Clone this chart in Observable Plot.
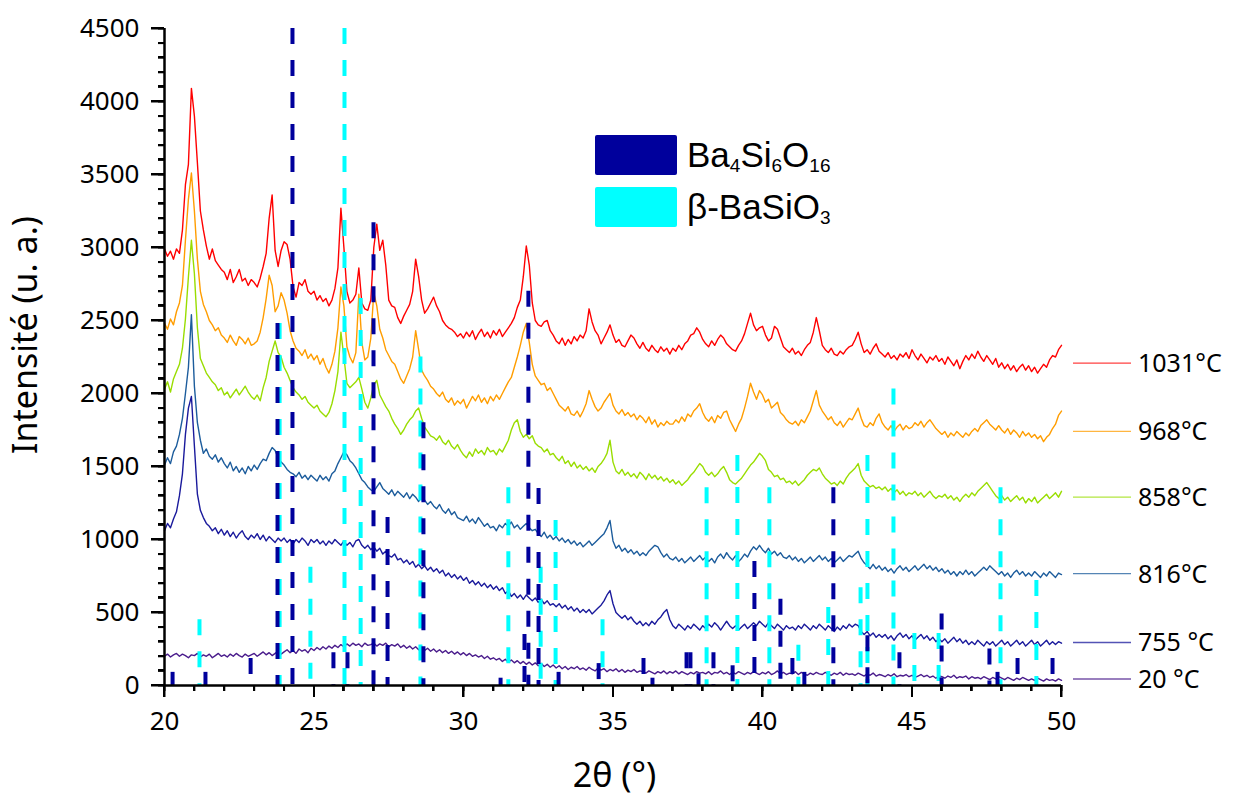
<!DOCTYPE html>
<html><head><meta charset="utf-8">
<script src="https://cdn.jsdelivr.net/npm/d3@7"></script>
<script src="https://cdn.jsdelivr.net/npm/@observablehq/plot@0.6"></script>
<style>
html,body{margin:0;padding:0;background:#fff;}
#wrap{position:relative;width:1233px;height:796px;font-family:"Liberation Sans",Arial,sans-serif;}
.phase{position:absolute;left:595px;display:flex;align-items:center;height:40px;}
.sw{width:82px;height:40px;border-radius:2px;}
.lab{margin-left:10px;font-size:35px;color:#000;white-space:nowrap;line-height:40px;}
.lab sub{font-size:19px;vertical-align:-5px;line-height:0;}
.tk{position:absolute;background:#000;}
</style></head><body><div id="wrap"></div>
<script>
// 2θ sampling (degrees), 0.1° step from 20 to 50
const thetaStart = 20, thetaStep = 0.1;

// Intensities (u. a.), one row per degree
const int1031 = [
2990,2940,2975,2920,2990,2960,3120,3430,3570,4090,
3900,3580,3250,3120,3010,2920,2990,2910,2880,2850,
2830,2780,2850,2760,2800,2850,2770,2790,2740,2780,
2760,2730,2790,2870,2960,3200,3360,2980,2870,2980,
3040,3020,2920,2730,2660,2760,2740,2780,2700,2680,
2700,2640,2670,2630,2650,2600,2640,2720,2860,3270,
3000,2700,2620,2640,2680,2860,2620,2580,2570,2640,
3000,3160,2980,3050,2880,2640,2600,2590,2520,2480,
2530,2570,2610,2700,2920,2800,2640,2550,2580,2620,
2660,2600,2560,2500,2470,2450,2440,2420,2390,2410,
2380,2420,2390,2430,2370,2410,2440,2390,2420,2380,
2430,2400,2440,2390,2420,2450,2480,2520,2590,2640,
2800,3010,2880,2620,2500,2470,2460,2490,2500,2430,
2400,2360,2340,2380,2330,2370,2340,2390,2360,2400,
2380,2430,2580,2490,2430,2400,2340,2380,2420,2470,
2400,2350,2370,2330,2320,2360,2400,2380,2340,2310,
2350,2310,2290,2330,2300,2280,2320,2290,2310,2270,
2310,2290,2330,2300,2340,2360,2400,2410,2450,2420,
2370,2340,2320,2360,2330,2370,2400,2380,2340,2320,
2300,2290,2330,2360,2410,2480,2550,2470,2430,2450,
2460,2400,2360,2380,2460,2440,2380,2320,2300,2280,
2310,2270,2290,2260,2300,2330,2350,2420,2520,2430,
2330,2300,2280,2310,2270,2260,2290,2270,2300,2320,
2330,2370,2420,2340,2280,2300,2270,2310,2340,2290,
2270,2250,2280,2240,2260,2230,2270,2250,2280,2240,
2300,2260,2230,2270,2240,2210,2250,2230,2260,2220,
2240,2200,2250,2220,2190,2230,2170,2220,2260,2230,
2270,2240,2290,2250,2220,2260,2230,2200,2240,2180,
2210,2170,2200,2160,2190,2150,2180,2200,2160,2190,
2150,2180,2140,2170,2200,2180,2230,2260,2250,2300,
2330];
const int968 = [
2480,2440,2510,2470,2560,2620,2740,3050,3330,3510,
3250,2920,2700,2610,2560,2500,2470,2430,2450,2400,
2380,2350,2400,2360,2330,2390,2370,2340,2380,2330,
2340,2360,2420,2520,2650,2810,2740,2560,2600,2690,
2640,2550,2430,2360,2310,2290,2260,2300,2240,2270,
2230,2260,2200,2240,2180,2140,2200,2290,2450,2730,
2600,2320,2250,2210,2280,2680,2350,2230,2250,2380,
2690,2600,2440,2380,2300,2260,2220,2200,2150,2100,
2070,2120,2170,2250,2430,2300,2160,2120,2090,2050,
2030,2000,1980,2010,1960,1940,1970,1920,1950,1930,
1960,1900,1940,1980,1950,1990,1940,1970,1930,1980,
1950,1990,1960,2000,2040,2080,2110,2180,2250,2330,
2420,2480,2350,2200,2120,2090,2060,2070,2020,2040,
2000,1960,1920,1900,1880,1910,1860,1850,1880,1840,
1880,1930,2020,1960,1910,1880,1900,1940,1970,2000,
1920,1880,1860,1890,1850,1870,1840,1860,1820,1850,
1830,1800,1840,1790,1820,1770,1800,1780,1810,1790,
1790,1820,1800,1840,1810,1860,1840,1880,1900,1930,
1870,1830,1810,1840,1800,1850,1830,1870,1880,1820,
1780,1740,1790,1830,1900,1980,2070,2010,1960,2020,
1990,1940,1960,1900,1920,1940,1870,1850,1820,1800,
1790,1810,1780,1820,1800,1840,1880,1950,2020,1920,
1880,1850,1820,1840,1800,1780,1810,1770,1800,1830,
1820,1860,1900,1830,1780,1770,1800,1780,1830,1860,
1800,1770,1750,1780,1740,1770,1790,1750,1780,1760,
1770,1800,1780,1810,1770,1800,1820,1790,1760,1740,
1720,1740,1700,1730,1710,1740,1720,1700,1730,1710,
1740,1760,1740,1780,1800,1820,1790,1770,1750,1780,
1750,1730,1760,1720,1750,1730,1700,1740,1710,1730,
1700,1720,1690,1710,1670,1700,1720,1760,1790,1850,
1880];
const int858 = [
2030,2080,2010,2100,2150,2200,2310,2510,2800,3050,
2820,2450,2240,2190,2140,2110,2080,2060,2020,2040,
1990,2010,1970,2000,2030,1990,2020,2050,2010,1980,
1960,1990,1950,2040,2110,2220,2290,2360,2280,2250,
2180,2140,2090,2040,2010,1990,1960,1980,1940,1920,
1900,1920,1880,1860,1840,1870,1930,2020,2150,2420,
2250,2070,2040,2060,2080,2110,2030,1940,1900,1970,
2060,2090,1990,1950,1910,1880,1830,1790,1760,1720,
1750,1790,1820,1840,1880,1900,1830,1770,1740,1710,
1700,1680,1710,1670,1650,1680,1640,1620,1650,1610,
1580,1560,1600,1570,1620,1590,1610,1580,1630,1600,
1610,1580,1620,1600,1640,1680,1750,1800,1820,1740,
1700,1720,1690,1710,1660,1640,1630,1600,1620,1580,
1590,1560,1540,1570,1520,1540,1500,1530,1490,1510,
1480,1500,1470,1490,1460,1500,1520,1550,1590,1680,
1530,1470,1450,1480,1440,1460,1430,1450,1420,1460,
1440,1410,1450,1420,1440,1410,1430,1400,1420,1390,
1410,1380,1400,1370,1390,1410,1440,1460,1490,1520,
1500,1460,1440,1460,1430,1450,1480,1500,1460,1410,
1390,1380,1400,1420,1450,1480,1510,1530,1560,1590,
1570,1540,1480,1460,1430,1440,1410,1420,1390,1400,
1380,1400,1370,1390,1410,1440,1460,1480,1470,1490,
1450,1420,1400,1380,1390,1370,1400,1380,1420,1450,
1470,1490,1520,1440,1400,1380,1360,1370,1350,1360,
1340,1360,1330,1350,1320,1340,1310,1330,1300,1320,
1310,1330,1300,1320,1290,1310,1330,1300,1280,1300,
1290,1310,1280,1300,1270,1290,1260,1290,1310,1290,
1320,1300,1330,1350,1370,1390,1360,1330,1300,1280,
1300,1270,1290,1260,1280,1300,1270,1290,1250,1280,
1260,1290,1250,1270,1290,1310,1280,1300,1320,1290,
1330];
const int816 = [
1510,1560,1520,1600,1640,1720,1830,2000,2180,2540,
2050,1800,1680,1590,1620,1570,1550,1580,1530,1560,
1520,1490,1530,1470,1500,1460,1490,1450,1500,1470,
1510,1480,1520,1550,1540,1590,1630,1610,1560,1530,
1510,1480,1460,1450,1430,1460,1420,1440,1410,1440,
1420,1400,1440,1410,1430,1400,1450,1470,1520,1560,
1600,1580,1540,1520,1490,1450,1410,1390,1360,1340,
1330,1360,1390,1350,1330,1310,1340,1300,1330,1310,
1290,1320,1280,1310,1290,1260,1300,1270,1240,1260,
1230,1210,1240,1200,1180,1210,1170,1190,1150,1140,
1130,1160,1120,1140,1110,1150,1120,1090,1110,1080,
1090,1060,1100,1080,1110,1090,1120,1080,1100,1070,
1090,1110,1080,1060,1070,1040,1020,1050,1010,1030,
1000,1020,990,1010,980,1000,970,990,960,980,
950,970,990,960,980,1000,1020,1040,1080,1130,
990,940,960,920,940,910,930,900,920,890,
910,890,920,940,960,950,910,880,900,870,
860,880,850,870,840,860,880,850,870,890,
860,880,850,870,840,880,900,870,910,880,
860,890,850,870,900,880,920,950,930,960,
930,910,940,900,920,890,910,880,870,890,
860,880,850,870,840,860,880,850,870,890,
860,880,850,870,840,860,880,850,870,890,
880,900,920,870,840,820,800,830,800,820,
790,810,780,800,770,800,820,790,810,780,
800,820,790,810,830,800,820,790,810,780,
800,770,790,760,780,750,780,760,790,760,
780,750,770,790,810,790,820,800,780,760,
780,750,770,740,770,790,760,780,750,770,
750,780,760,740,770,750,780,760,740,770,
760];
const int755 = [
1060,1110,1080,1140,1190,1300,1450,1720,1900,1980,
1640,1310,1200,1150,1110,1090,1060,1080,1040,1070,
1030,1060,1020,1050,1010,1040,1060,1020,1000,1030,
1010,1040,1000,1030,990,1020,1000,980,1010,990,
1010,980,1000,970,1000,980,1010,990,960,1000,
980,1000,970,990,960,990,970,1000,980,960,
990,960,980,950,990,1000,960,940,960,930,
950,920,940,900,920,890,880,900,860,870,
840,860,830,850,810,830,800,820,790,810,
780,800,770,790,750,770,740,760,730,750,
720,740,700,720,690,710,680,700,670,690,
660,680,650,670,630,650,610,630,600,620,
590,620,600,580,600,570,590,560,580,550,
560,540,560,530,550,520,540,510,530,500,
520,500,520,490,510,530,550,580,620,650,
560,500,480,460,480,450,470,440,420,440,
410,430,410,440,420,450,470,500,520,450,
410,390,420,400,380,410,390,420,400,380,
410,390,420,400,430,410,380,410,440,410,
390,410,380,400,420,390,410,430,410,440,
420,400,430,410,390,420,400,380,410,390,
400,380,410,390,420,400,380,410,390,420,
400,380,410,390,370,400,380,410,390,420,
400,420,410,370,350,370,340,360,330,350,
330,350,320,340,310,340,360,330,350,320,
340,310,330,350,320,340,310,330,300,320,
300,320,290,310,330,300,320,290,310,280,
300,280,310,290,270,300,280,300,270,290,
310,280,300,270,290,310,280,300,270,290,
310,280,300,270,290,310,280,300,280,300,
290];
const int20 = [
200,215,195,210,220,200,215,205,190,210,
205,220,195,210,200,215,190,205,220,200,
210,195,215,200,220,205,195,215,200,210,
220,200,215,230,210,225,205,220,235,215,
230,245,225,240,220,250,235,245,225,255,
240,260,245,265,250,270,255,275,260,280,
265,285,270,290,275,285,265,290,275,280,
290,270,285,275,290,265,280,270,285,260,
275,255,270,250,265,245,260,240,255,235,
250,230,245,225,240,220,235,215,230,210,
225,205,220,200,210,195,205,185,200,180,
190,175,185,165,180,160,175,155,170,150,
165,145,160,140,155,135,150,130,145,125,
140,120,135,115,130,110,125,115,130,110,
120,105,125,110,100,120,105,115,95,110,
100,115,95,110,90,105,95,110,90,100,
95,85,100,90,80,95,85,100,80,95,
85,100,80,95,85,75,90,80,95,85,
90,80,95,75,90,85,100,80,90,75,
90,80,95,85,75,90,80,95,85,75,
90,80,95,75,85,100,80,90,75,85,
80,95,75,90,80,70,85,75,90,80,
75,90,80,70,85,75,90,70,85,75,
80,70,85,75,65,80,70,85,65,75,
70,60,75,65,80,60,70,65,75,60,
70,55,65,75,60,70,55,65,50,65,
60,50,65,55,70,50,60,55,65,45,
60,50,55,45,60,50,40,55,45,60,
50,40,55,45,35,50,40,55,45,35,
45,35,50,40,30,45,35,40,30,45,
35];

const seriesLabels = ["1031°C", "968°C", "858°C", "816°C", "755 °C", "20 °C"];
const seriesColors = ["#ff0000", "#ff9d00", "#99dd00", "#1c5c9c", "#1a1a9c", "#4a1c8c"];
const seriesValues = [int1031, int968, int858, int816, int755, int20];

// Reference patterns: 2θ positions and heights
const ba4Si6O16Pos = [20.27,21.37,22.88,23.78,24.28,25.65,26.12,26.99,27.46,28.66,31.24,32.04,32.17,32.51,33.18,34.52,36.02,36.32,37.46,37.59,37.86,38.36,39.0,39.73,40.6,41.0,41.4,42.37,43.51,44.58,45.99,47.59,47.86,48.53,49.7];
const ba4Si6O16Int = [90,90,185,2480,4500,225,225,3170,1150,1800,50,350,2700,1350,90,150,185,50,225,225,80,225,135,850,590,185,90,1355,340,225,490,250,90,185,185];
const bBaSiO3Pos = [21.17,23.85,24.88,26.02,26.56,28.56,31.5,32.58,33.08,34.65,38.13,39.16,40.23,41.2,42.2,43.28,43.51,44.38,45.08,45.89,47.96,49.16];
const bBaSiO3Int = [450,2480,810,4500,2650,2250,1355,810,1130,450,1355,1575,1355,275,535,670,1575,2030,356,356,1355,720];
const phaseNames = ["Ba4Si6O16", "β-BaSiO3"];
const phaseColors = ["#00009c", "#00ffff"];

const xMajorTicks = [20, 25, 30, 35, 40, 45, 50];
const yMajorTicks = [0, 500, 1000, 1500, 2000, 2500, 3000, 3500, 4000, 4500];
const xMinorTicks = d3.range(20, 51, 1);
const yMinorTicks = d3.range(0, 4501, 100);

const twoTheta = d3.range(int1031.length).map(i => Math.round((thetaStart + i * thetaStep) * 10) / 10);

const lineMarks = seriesValues.slice().reverse().map((vals, k) => {
  const idx = seriesValues.length - 1 - k;
  return Plot.line(vals.map((v, i) => ({x: twoTheta[i], y: v})), {x: "x", y: "y", stroke: seriesColors[idx], strokeWidth: 1.4});
});

const refData = [
  ...bBaSiO3Pos.map((p, i) => ({x: p, h: bBaSiO3Int[i], c: phaseColors[1]})),
  ...ba4Si6O16Pos.map((p, i) => ({x: p, h: ba4Si6O16Int[i], c: phaseColors[0]}))
];

const chart = Plot.plot({
  width: 1233, height: 796,
  marginLeft: 164, marginRight: 172, marginTop: 28, marginBottom: 111,
  x: {domain: [20, 50]},
  y: {domain: [0, 4500]},
  marks: [
    Plot.axisY({ticks: yMinorTicks, tickSize: 6, strokeWidth: 2, tickFormat: () => "", label: null}),
    Plot.axisX({ticks: xMinorTicks, tickSize: 6, strokeWidth: 2, tickFormat: () => "", label: null}),
    Plot.axisY({ticks: yMajorTicks, tickSize: 13, tickPadding: 12, strokeWidth: 2, fontSize: 26, label: null, tickFormat: d => String(d)}),
    Plot.axisX({ticks: xMajorTicks, tickSize: 12, tickPadding: 14, strokeWidth: 2, fontSize: 26, label: null, tickFormat: d => String(d)}),
    ...lineMarks,
    Plot.ruleX(refData, {x: "x", y1: "h", y2: 0, stroke: d => d.c, strokeWidth: 4, strokeDasharray: "16,16"}),
    Plot.ruleX([20], {strokeWidth: 2.5}),
    Plot.ruleY([0], {strokeWidth: 2.5})
  ]
});

const wrap = document.getElementById("wrap");
wrap.appendChild(chart);

const sx = chart.scale("x"), sy = chart.scale("y");
const svg = d3.select(chart);
const x0 = sx.apply(20), y0 = sy.apply(0), xEnd = sx.apply(50);

// tick marks as an overlay, positioned through the plot's own scales
function addTick(left, top, w, h) {
  const t = document.createElement("div");
  t.className = "tk";
  t.style.left = left + "px"; t.style.top = top + "px";
  t.style.width = w + "px"; t.style.height = h + "px";
  wrap.appendChild(t);
}
yMinorTicks.forEach(v => addTick(x0 - 6, sy.apply(v) - 1, 6, 2));
yMajorTicks.forEach(v => addTick(x0 - 13, sy.apply(v) - 1, 13, 2));
xMinorTicks.forEach(v => addTick(sx.apply(v) - 1, y0, 2, 6));
xMajorTicks.forEach(v => addTick(sx.apply(v) - 1, y0, 2, 12));

// temperature legend at the right, aligned with each pattern's tail
seriesValues.forEach((vals, i) => {
  const yPos = sy.apply(d3.mean(vals.slice(285)));
  svg.append("line").attr("x1", xEnd + 12).attr("x2", xEnd + 70).attr("y1", yPos).attr("y2", yPos)
    .attr("stroke", seriesColors[i]).attr("stroke-width", 1.3).attr("stroke-opacity", 0.75);
  svg.append("text").attr("x", xEnd + 77).attr("y", yPos).attr("dy", "0.36em")
    .attr("text-anchor", "start").attr("font-size", 25).attr("fill", "#000").text(seriesLabels[i]);
});

// axis titles
svg.append("text").attr("transform", "translate(37,335) rotate(-90)").attr("text-anchor", "middle")
  .attr("font-size", 34).attr("fill", "#000").text("Intensité (u. a.)");
svg.append("text").attr("x", (x0 + xEnd) / 2 + 2).attr("y", 787).attr("text-anchor", "middle")
  .attr("font-size", 34).attr("fill", "#000").text("2θ (°)");

// phase legend
const phaseHtml = ['Ba<sub>4</sub>Si<sub>6</sub>O<sub>16</sub>', 'β-BaSiO<sub>3</sub>'];
phaseColors.forEach((c, i) => {
  const div = document.createElement("div");
  div.className = "phase";
  div.style.top = (135 + i * 52) + "px";
  div.innerHTML = `<div class="sw" style="background:${c}"></div><div class="lab">${phaseHtml[i]}</div>`;
  div.title = phaseNames[i];
  wrap.appendChild(div);
});
</script></body></html>
